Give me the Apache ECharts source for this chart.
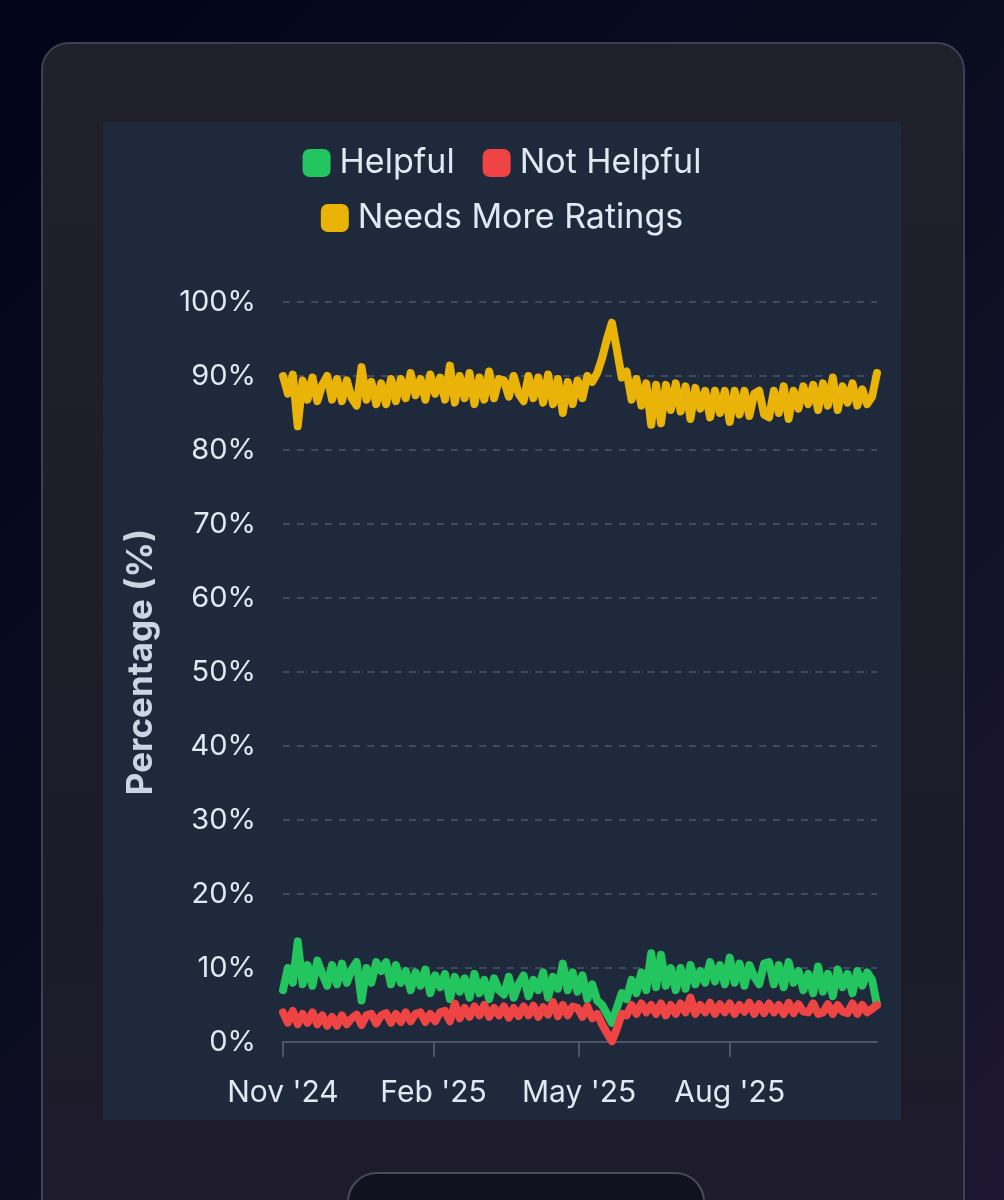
<!DOCTYPE html>
<html>
<head>
<meta charset="utf-8">
<script src="https://cdn.jsdelivr.net/npm/echarts@6/dist/echarts.min.js"></script>
<style>
  html, body { margin: 0; padding: 0; }
  body {
    width: 1004px; height: 1200px; overflow: hidden; position: relative;
    background: linear-gradient(135deg, #02051a 0%, #0a0c20 45%, #17142b 80%, #1d1632 100%);
    font-family: Inter, "Noto Sans", sans-serif;
  }
  #card {
    position: absolute; left: 41px; top: 42px; width: 920px; height: 1240px;
    border: 2px solid #3d414f; border-radius: 28px;
    background: linear-gradient(180deg, #1f2029 0%, #1c1c28 70%, #1f1b2e 100%);
  }
  #chart {
    position: absolute; left: 103px; top: 122px; width: 798px; height: 998px;
    background: #1e293b;
  }
  #tab {
    position: absolute; left: 347px; top: 1172px; width: 354px; height: 80px;
    border: 2px solid #474b5a; border-radius: 30px;
    background: #12111f;
  }
</style>
</head>
<body>
<div id="card"></div>
<div id="chart"></div>
<div id="tab"></div>
<script>
// share of notes by status, read every 3 days from 1 Nov 2024
const startDay = 0;
const stepDays = 3;

const helpful = [
  7.0, 10.0, 8.0, 13.6, 7.8, 10.4, 7.6, 11.0, 9.2, 7.6,
  10.4, 7.8, 10.6, 8.0, 9.8, 10.8, 5.6, 10.0, 8.0, 10.8,
  9.6, 10.8, 7.8, 10.4, 8.0, 9.6, 7.0, 9.4, 7.6, 9.8,
  6.6, 9.0, 7.4, 9.2, 5.8, 8.8, 6.8, 8.6, 6.0, 9.2,
  6.6, 8.4, 5.8, 8.6, 7.0, 6.4, 8.8, 6.0, 7.8, 9.0,
  6.2, 8.4, 7.0, 9.4, 6.0, 8.8, 7.2, 10.6, 7.0, 9.4,
  6.8, 9.0, 5.8, 7.8, 5.6, 5.0, 3.8, 2.6, 4.6, 6.6,
  5.8, 8.4, 6.6, 9.4, 7.0, 12.0, 7.4, 11.8, 7.6, 10.0,
  7.0, 10.0, 7.2, 10.4, 7.8, 9.6, 8.0, 10.8, 8.2, 10.4,
  7.8, 11.4, 8.0, 10.6, 7.6, 10.4, 8.8, 7.8, 10.6, 10.8,
  7.8, 10.4, 7.4, 10.8, 8.0, 9.6, 7.0, 9.2, 6.6, 10.2,
  6.8, 9.2, 6.2, 9.8, 7.4, 9.2, 6.6, 9.6, 7.6, 9.4,
  8.4, 5.0
];

const notHelpful = [
  4.0, 2.6, 4.2, 2.4, 3.8, 2.6, 4.0, 2.4, 3.6, 2.2,
  3.4, 2.2, 3.6, 2.4, 3.2, 3.7, 2.3, 3.6, 3.8, 2.5,
  3.6, 3.9, 2.6, 3.8, 2.7, 4.0, 2.8, 3.8, 4.0, 2.7,
  3.8, 2.8, 4.0, 4.2, 2.8, 5.2, 3.2, 4.6, 3.4, 4.8,
  3.6, 5.0, 3.4, 4.6, 3.6, 4.8, 3.3, 4.6, 3.5, 4.8,
  3.6, 4.9, 3.4, 4.7, 3.7, 5.4, 3.5, 5.0, 3.6, 4.8,
  4.6, 3.4, 4.8, 3.2, 3.8, 2.4, 1.2, 0.1, 1.8, 3.8,
  3.6, 5.0, 3.8, 5.2, 4.0, 5.0, 3.8, 5.2, 3.6, 5.0,
  3.8, 5.2, 4.0, 6.0, 3.8, 5.0, 4.0, 5.3, 3.8, 5.1,
  4.0, 5.2, 3.8, 5.0, 4.1, 5.3, 3.8, 5.1, 3.9, 5.2,
  4.0, 5.0, 3.8, 5.3, 3.9, 5.1, 4.1, 4.0, 5.2, 3.8,
  4.0, 5.1, 3.8, 5.0, 4.1, 3.9, 5.2, 3.8, 5.0, 4.0,
  4.5, 5.0
];

const needsMoreRatings = [
  90.0, 87.6, 90.2, 83.2, 89.4, 86.8, 89.8, 86.6, 88.8, 90.0,
  86.8, 89.6, 86.6, 89.4, 87.0, 86.0, 91.2, 86.8, 89.2, 86.2,
  89.0, 86.2, 89.6, 86.6, 89.6, 87.0, 90.4, 87.4, 89.6, 86.8,
  90.2, 87.6, 89.8, 86.8, 91.4, 86.4, 90.0, 87.0, 90.4, 86.2,
  89.8, 86.8, 90.6, 87.0, 89.6, 89.4, 87.2, 90.0, 87.6, 86.6,
  90.0, 87.0, 89.8, 86.4, 90.2, 86.2, 89.6, 85.0, 89.2, 86.2,
  89.4, 87.0, 90.0, 89.2, 90.4, 92.4, 95.0, 97.2, 93.6, 89.8,
  90.6, 86.8, 89.6, 86.0, 89.0, 83.4, 88.8, 83.6, 88.8, 85.4,
  89.0, 85.2, 88.6, 84.2, 88.4, 85.6, 88.0, 84.4, 88.0, 85.0,
  88.0, 83.8, 88.0, 84.8, 88.0, 84.6, 87.6, 88.0, 84.8, 84.4,
  88.0, 85.0, 88.6, 84.2, 88.0, 85.6, 88.6, 86.2, 88.8, 85.4,
  89.0, 86.0, 89.8, 85.4, 88.6, 86.4, 89.0, 86.0, 88.2, 86.2,
  87.2, 90.4
];

// x axis: days since 1 Nov 2024
const lastDay = 363;
const tickDays = [0, 92, 181, 273];
const tickLabels = ["Nov '24", "Feb '25", "May '25", "Aug '25"];

const toPairs = arr => arr.map((v, i) => [startDay + i * stepDays, v]);

const textColor = '#e2e8f0';
const font = 'Inter, "Noto Sans", sans-serif';

const chart = echarts.init(document.getElementById('chart'));

const legendCommon = {
  left: 'center',
  icon: 'roundRect',
  itemWidth: 28,
  itemHeight: 28,
  itemGap: 28,
  textStyle: { color: textColor, fontSize: 34, fontFamily: font, padding: [0, 0, 0, 4] },
};

const lineStyle = { width: 8, join: 'round', cap: 'round' };

const option = {
  backgroundColor: '#1e293b',
  animation: false,
  legend: [
    Object.assign({ top: 19, data: ['Helpful', 'Not Helpful'] }, legendCommon),
    Object.assign({ top: 74, data: ['Needs More Ratings'] }, legendCommon),
  ],
  grid: { left: 180, right: 24, top: 180, bottom: 78 },
  xAxis: {
    type: 'value',
    min: 0,
    max: lastDay,
    splitLine: { show: false },
    axisLine: { show: true, lineStyle: { color: '#4b5563', width: 2 } },
    axisTick: {
      show: true, customValues: tickDays, length: 15,
      lineStyle: { color: '#4b5563', width: 2 },
    },
    axisLabel: {
      customValues: tickDays,
      margin: 36,
      color: textColor,
      fontSize: 30,
      fontFamily: font,
      formatter: v => tickLabels[tickDays.indexOf(v)] || '',
    },
  },
  yAxis: {
    type: 'value',
    min: 0,
    max: 100,
    interval: 10,
    name: 'Percentage (%)',
    nameLocation: 'middle',
    nameGap: 124,
    nameTextStyle: {
      color: '#cbd5e1', fontSize: 35, fontWeight: 'bold', fontFamily: font,
      padding: [0, 0, 0, 20],
    },
    axisLine: { show: false },
    axisTick: { show: false },
    axisLabel: {
      margin: 27, color: textColor, fontSize: 29, fontFamily: font,
      formatter: v => v + '%',
    },
    splitLine: { lineStyle: { color: 'rgba(100,116,139,0.45)', type: [7, 7], width: 2 } },
  },
  series: [
    { name: 'Helpful', type: 'line', data: toPairs(helpful), showSymbol: false, color: '#22c55e', lineStyle },
    { name: 'Not Helpful', type: 'line', data: toPairs(notHelpful), showSymbol: false, color: '#ef4444', lineStyle },
    { name: 'Needs More Ratings', type: 'line', data: toPairs(needsMoreRatings), showSymbol: false, color: '#eab308', lineStyle },
  ],
};

chart.setOption(option);
</script>
</body>
</html>
